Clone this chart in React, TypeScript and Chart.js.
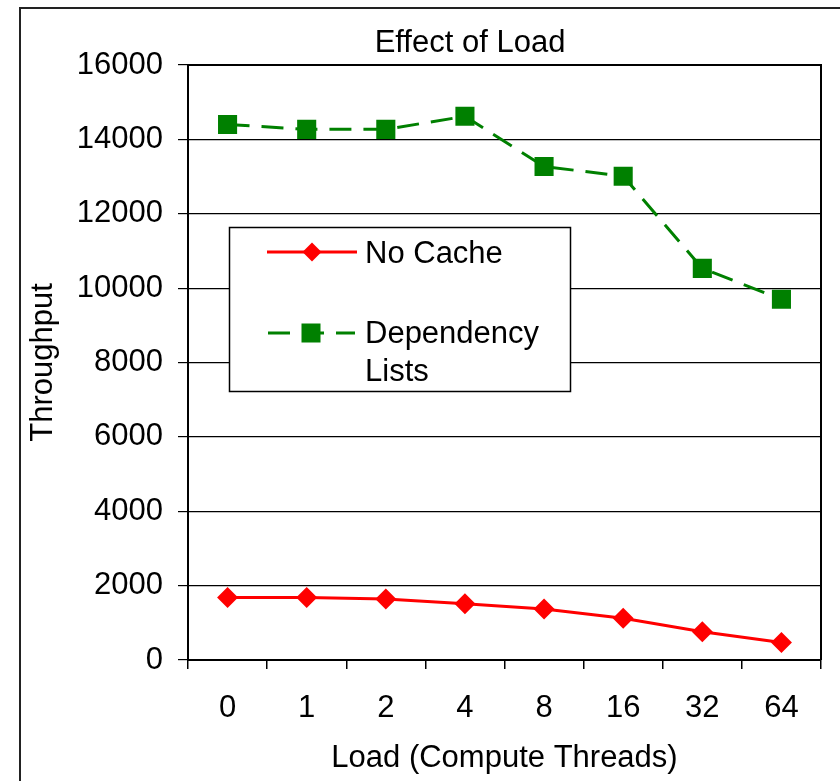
import React, { useEffect, useRef } from "react";
import { Chart, registerables } from "chart.js";

Chart.register(...registerables);

const loadLabels = ["0", "1", "2", "4", "8", "16", "32", "64"];
const noCache = [1680, 1680, 1640, 1510, 1370, 1120, 760, 470];
const dependencyLists = [14400, 14270, 14270, 14620, 13270, 13010, 10530, 9700];
const yMin = 0;
const yMax = 16000;
const yStep = 2000;

const chartTitle = "Effect of Load";
const xTitle = "Load (Compute Threads)";
const yTitle = "Throughput";
const legendNames = ["No Cache", "Dependency", "Lists"];

const FONT = "'Liberation Sans', Arial, sans-serif";
const RED = "#ff0000";
const GREEN = "#008000";

const decorPlugin = {
  id: "decor",
  afterDraw(chart: any) {
    const ctx = chart.ctx as CanvasRenderingContext2D;
    const a = chart.chartArea;
    ctx.save();
    // outer frame
    ctx.strokeStyle = "#222";
    ctx.lineWidth = 2;
    ctx.beginPath();
    ctx.moveTo(20, 781);
    ctx.lineTo(20, 8);
    ctx.lineTo(840, 8);
    ctx.stroke();
    // plot border (top + right)
    ctx.strokeStyle = "#000";
    ctx.lineWidth = 2;
    ctx.beginPath();
    ctx.moveTo(a.left, a.top);
    ctx.lineTo(a.right, a.top);
    ctx.lineTo(a.right, a.bottom);
    ctx.stroke();
    // title
    ctx.fillStyle = "#000";
    ctx.font = `31px ${FONT}`;
    ctx.textAlign = "center";
    ctx.textBaseline = "alphabetic";
    ctx.fillText(chartTitle, 470, 52);

    // legend box
    const bx = 229.5, by = 227.5, bw = 341, bh = 164;
    ctx.fillStyle = "#fff";
    ctx.fillRect(bx, by, bw, bh);
    ctx.strokeStyle = "#000";
    ctx.lineWidth = 1.5;
    ctx.strokeRect(bx, by, bw, bh);

    // entry 1
    ctx.strokeStyle = RED;
    ctx.lineWidth = 3;
    ctx.setLineDash([]);
    ctx.beginPath();
    ctx.moveTo(267, 252);
    ctx.lineTo(357, 252);
    ctx.stroke();
    ctx.fillStyle = RED;
    ctx.beginPath();
    ctx.moveTo(302.5, 252);
    ctx.lineTo(312, 242.5);
    ctx.lineTo(321.5, 252);
    ctx.lineTo(312, 261.5);
    ctx.closePath();
    ctx.fill();

    // entry 2
    ctx.strokeStyle = GREEN;
    ctx.setLineDash([22, 12]);
    ctx.beginPath();
    ctx.moveTo(268, 333);
    ctx.lineTo(355, 333);
    ctx.stroke();
    ctx.setLineDash([]);
    ctx.fillStyle = GREEN;
    ctx.fillRect(301.5, 323.5, 19, 19);

    ctx.fillStyle = "#000";
    ctx.textAlign = "left";
    ctx.font = `31px ${FONT}`;
    ctx.fillText(legendNames[0], 365, 263);
    ctx.fillText(legendNames[1], 365, 343);
    ctx.fillText(legendNames[2], 365, 381);
    ctx.restore();
  },
};

export default function App() {
  const ref = useRef<HTMLCanvasElement>(null);
  useEffect(() => {
    if (!ref.current) return;
    Chart.defaults.font.family = FONT;
    Chart.defaults.color = "#000";
    const chart = new Chart(ref.current, {
      type: "line",
      data: {
        labels: loadLabels,
        datasets: [
          {
            label: legendNames[0],
            data: noCache,
            borderColor: RED,
            backgroundColor: RED,
            borderWidth: 3,
            pointStyle: "rectRot",
            pointRadius: 10.5,
            pointBorderWidth: 0,
            pointBackgroundColor: RED,
            tension: 0,
          },
          {
            label: legendNames[1] + " " + legendNames[2],
            data: dependencyLists,
            borderColor: GREEN,
            backgroundColor: GREEN,
            borderWidth: 3,
            borderDash: [22, 12],
            pointStyle: "rect",
            pointRadius: 13.5,
            pointBorderWidth: 0,
            pointBackgroundColor: GREEN,
            tension: 0,
          },
        ],
      },
      options: {
        responsive: false,
        animation: false,
        devicePixelRatio: 1,
        layout: { padding: { top: 65, right: 19, left: 0, bottom: 0 } },
        plugins: {
          legend: { display: false },
          title: { display: false },
          tooltip: { enabled: false },
        },
        scales: {
          x: {
            type: "category",
            offset: true,
            grid: {
              display: true,
              drawOnChartArea: false,
              drawTicks: true,
              tickLength: 9,
              color: "#000",
              lineWidth: 1.5,
              offset: true,
            },
            border: { display: true, color: "#000", width: 2 },
            ticks: {
              font: { size: 31 },
              color: "#000",
              padding: 21,
              maxRotation: 0,
              autoSkip: false,
            },
            title: {
              display: true,
              text: xTitle,
              font: { size: 31 },
              color: "#000",
              padding: { top: 0, bottom: 4 },
            },
            afterFit(scale: any) {
              scale.height = 121;
            },
          },
          y: {
            min: yMin,
            max: yMax,
            grid: {
              color: "#000",
              lineWidth: 1.2,
              tickLength: 10,
              drawTicks: true,
            },
            border: { display: true, color: "#000", width: 2 },
            ticks: {
              stepSize: yStep,
              font: { size: 31 },
              color: "#000",
              padding: 15,
              callback: (v: any) => String(v),
            },
            title: {
              display: true,
              text: yTitle,
              font: { size: 31 },
              color: "#000",
              padding: { top: 25, bottom: 0 },
            },
            afterFit(scale: any) {
              scale.width = 188;
            },
          },
        },
      },
      plugins: [decorPlugin],
    });
    return () => chart.destroy();
  }, []);
  return (
    <div style={{ position: "absolute", left: 0, top: 0, width: 840, height: 781, background: "#fff" }}>
      <canvas ref={ref} width={840} height={781} />
    </div>
  );
}
